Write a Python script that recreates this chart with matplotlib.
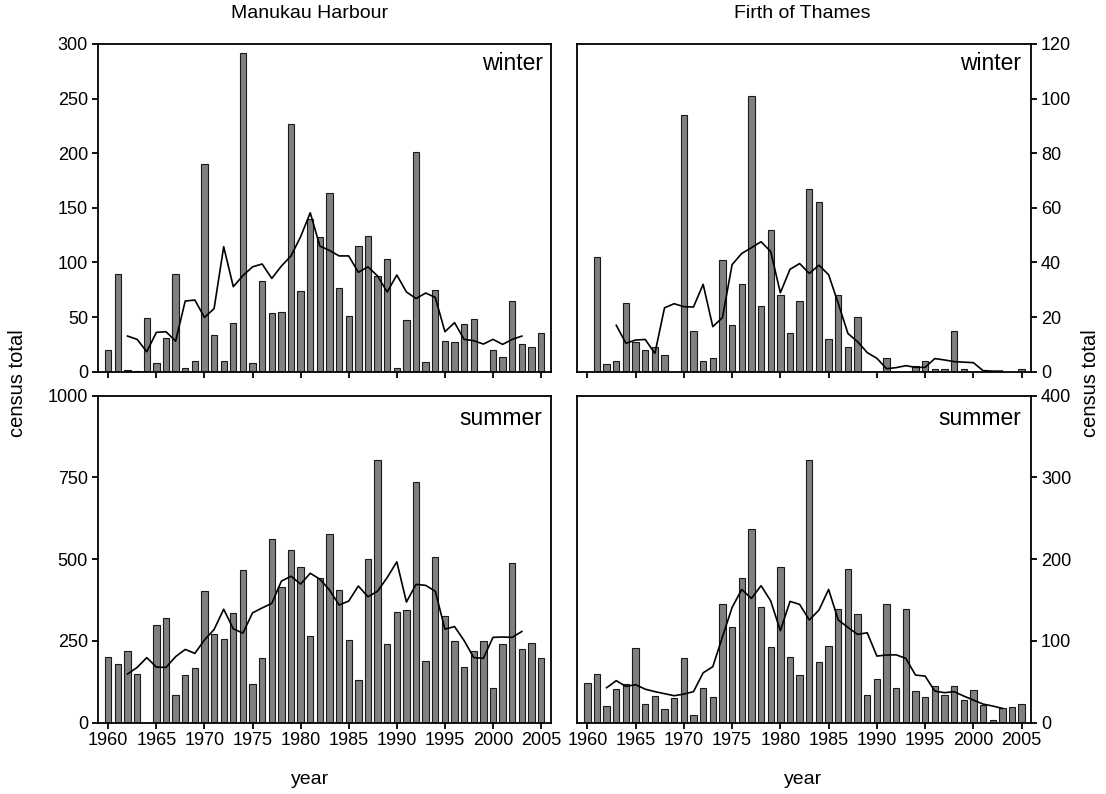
import numpy as np
import matplotlib
matplotlib.use("Agg")
import matplotlib.pyplot as plt

plt.rcParams['font.family'] = ['Liberation Sans', 'DejaVu Sans']

years = list(range(1960, 2006))

manukau_winter = [20, 89, 2, 1, 49, 8, 31, 89, 3, 10,
                  190, 34, 10, 45, 292, 8, 83, 54, 55, 227,
                  74, 140, 123, 164, 77, 51, 115, 124, 88, 103,
                  3, 47, 201, 9, 75, 28, 27, 44, 48, 1,
                  20, 13, 65, 25, 23, 35]
manukau_winter_line_years = list(range(1962, 2004))
manukau_winter_line = [32.6, 29.6, 18.3, 36, 36.6, 28, 64.7, 65.6, 49.7, 57.7,
                       114.4, 77.8, 88, 96, 98.6, 85.4, 96.7, 106, 123.6, 145.5,
                       115, 111, 106, 106, 91, 96, 87.6, 73, 88.5, 73,
                       67, 72, 68, 36.6, 44.9, 29.6, 28.4, 25.3, 29.6, 25,
                       29.6, 32.6]

firth_winter = [0, 42, 3, 4, 25, 11, 8, 9, 6, 0,
                94, 15, 4, 5, 41, 17, 32, 101, 24, 52,
                28, 14, 26, 67, 62, 12, 28, 9, 20, 0,
                0, 5, 0, 0, 2, 4, 1, 1, 15, 1,
                0, 0, 0, 0, 0, 1]
firth_winter_line_years = list(range(1963, 2004))
firth_winter_line = [17, 10.4, 11.6, 11.8, 6.7, 23.4, 24.9, 23.8, 23.7, 32,
                     16.5, 19.8, 39.2, 43.3, 45.4, 47.6, 44, 28.9, 37.5, 39.6,
                     36, 39, 35.5, 25, 14, 11, 7, 4.9, 1.1, 1.5,
                     2.2, 1.6, 1.6, 4.8, 4.3, 3.7, 3.5, 3.3, 0.4, 0.2,
                     0.2]

manukau_summer = [200, 179, 220, 150, 0, 300, 319, 85, 146, 166,
                  402, 270, 256, 335, 466, 118, 198, 561, 414, 529,
                  475, 264, 442, 577, 405, 253, 130, 502, 804, 241,
                  339, 344, 737, 189, 507, 326, 250, 171, 218, 250,
                  105, 241, 487, 225, 245, 199]
manukau_summer_line_years = list(range(1962, 2004))
manukau_summer_line = [149, 169, 199, 170, 169, 202, 224, 212, 253, 285,
                       347, 287, 274, 336, 351, 365, 433, 448, 424, 457,
                       439, 406, 360, 372, 418, 385, 402, 444, 492, 369,
                       423, 420, 402, 286, 294, 251, 199, 197, 261, 262,
                       261, 279]

firth_summer = [48, 59, 20, 41, 47, 91, 23, 33, 17, 30,
                79, 10, 42, 31, 145, 117, 177, 237, 141, 93,
                191, 80, 58, 321, 74, 94, 139, 188, 133, 34,
                54, 145, 42, 139, 39, 31, 45, 34, 45, 28,
                40, 22, 3, 18, 19, 23]
firth_summer_line_years = list(range(1962, 2004))
firth_summer_line = [42.8, 51.4, 44.4, 46.5, 41, 38, 35.5, 33, 35, 38,
                     61, 68.5, 105, 141, 163, 152, 167.6, 149, 112.5, 148.4,
                     144.7, 125.6, 137.8, 163, 125.6, 116.6, 108, 110, 81.5, 82.8,
                     83, 78.7, 58.3, 57, 38.7, 36.7, 38, 32.6, 27.7, 22.8,
                     20.4, 17.5]

xticks = list(range(1960, 2006, 5))
site_titles = ["Manukau Harbour", "Firth of Thames"]
season_labels = ["winter", "summer"]
yticks_ll = [[0, 50, 100, 150, 200, 250, 300], [0, 250, 500, 750, 1000]]
yticks_rr = [[0, 20, 40, 60, 80, 100, 120], [0, 100, 200, 300, 400]]

W, H = 1106, 794
fig = plt.figure(figsize=(W / 100, H / 100), dpi=100)

def fx(px):
    return px / W

def fy(py):
    return 1 - py / H

col_left = [97.7, 576.7]
col_right = [550.7, 1031.3]
row_top = [44.0, 395.7]
row_bot = [371.7, 722.7]

panels = [
    [(manukau_winter, manukau_winter_line_years, manukau_winter_line),
     (firth_winter, firth_winter_line_years, firth_winter_line)],
    [(manukau_summer, manukau_summer_line_years, manukau_summer_line),
     (firth_summer, firth_summer_line_years, firth_summer_line)],
]
ylims = [[300, 120], [1000, 400]]
label_y = [[0.921, 0.921], [0.910, 0.910]]
label_x = [0.982, 0.977]

for r in range(2):
    for c in range(2):
        ax = fig.add_axes([fx(col_left[c]), fy(row_bot[r]),
                           fx(col_right[c] - col_left[c]),
                           (row_bot[r] - row_top[r]) / H])
        bars, ly, lv = panels[r][c]
        ax.bar(years, bars, width=0.66, color='#808080', edgecolor='#1a1a1a',
               linewidth=0.8, zorder=2)
        ax.plot(ly, lv, color='black', linewidth=1.2, zorder=3)
        ax.set_xlim(1958.9, 2006.0)
        ax.set_ylim(0, ylims[r][c])
        ax.set_xticks(xticks)
        if c == 0:
            ax.set_yticks(yticks_ll[r])
        else:
            ax.set_yticks(yticks_rr[r])
            ax.yaxis.tick_right()
        if r == 0:
            ax.set_xticklabels([])
        else:
            ax.set_xticklabels([str(x) for x in xticks])
        ax.tick_params(axis='both', direction='out', length=4, width=1.3,
                       labelsize=13, pad=3, color='black')
        for sp in ax.spines.values():
            sp.set_linewidth(1.3)
        ax.text(label_x[c], label_y[r][c], season_labels[r],
                transform=ax.transAxes, ha='right', va='baseline', fontsize=16.5)

fig.text(fx(310), fy(14), site_titles[0], ha='center', va='center', fontsize=14)
fig.text(fx(802), fy(14), site_titles[1], ha='center', va='center', fontsize=14)
fig.text(fx(310), fy(780), "year", ha='center', va='center', fontsize=14)
fig.text(fx(803), fy(780), "year", ha='center', va='center', fontsize=14)
fig.text(fx(18), fy(383), "census total", ha='center', va='center',
         rotation=90, fontsize=14.5)
fig.text(fx(1090), fy(383), "census total", ha='center', va='center',
         rotation=90, fontsize=14.5)

fig.savefig("out.png", dpi=100)
